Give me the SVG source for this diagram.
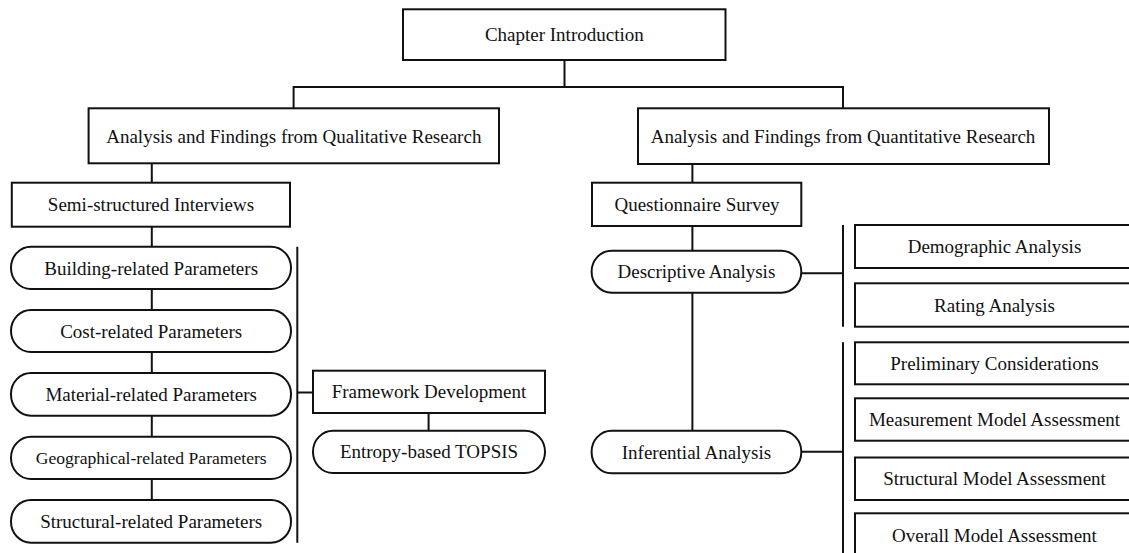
<svg xmlns="http://www.w3.org/2000/svg" width="1129" height="553" viewBox="0 0 1129 553">
<style>
.box{fill:#fff;stroke:#111;stroke-width:2}
.ln{fill:none;stroke:#111;stroke-width:2}
text{font-family:"Liberation Serif","Times New Roman",serif;font-size:19px;fill:#111;text-anchor:middle}
.sm{font-size:17.6px}
</style>
<rect width="1129" height="553" fill="#fff"/>
<g id="connectors">
<path class="ln" d="M564.5 60V87M293.6 108V87H843V108"/>
<path class="ln" d="M151.8 163V183M151.8 227V500"/>
<path class="ln" d="M297.3 246.7V542.7M297.3 392.5H313M428.6 413V430.7"/>
<path class="ln" d="M692.4 164V183M692.4 226V430.7"/>
<path class="ln" d="M801.3 273.3H843M843 225V326.7M801.3 451.7H843M843 342.3V553"/>
</g>
<g id="n-chapter"><rect class="box" x="403" y="9.3" width="322.5" height="50.7"/><text x="564.3" y="41.3">Chapter Introduction</text></g>
<g id="n-qual"><rect class="box" x="88.6" y="108.3" width="410.4" height="55"/><text x="293.8" y="142.5">Analysis and Findings from Qualitative Research</text></g>
<g id="n-quant"><rect class="box" x="638" y="108.3" width="411" height="55.7"/><text x="843" y="142.7">Analysis and Findings from Quantitative Research</text></g>
<g id="n-semi"><rect class="box" x="11.8" y="182.7" width="278.2" height="44"/><text x="151" y="211.3">Semi-structured Interviews</text></g>
<g id="n-quest"><rect class="box" x="592" y="182.7" width="209.3" height="43.3"/><text x="697" y="211">Questionnaire Survey</text></g>
<g id="n-building"><rect class="box" x="11" y="246.7" width="280" height="42.3" rx="20" ry="21"/><text x="151.2" y="274.6">Building-related Parameters</text></g>
<g id="n-cost"><rect class="box" x="11" y="310" width="280" height="42" rx="20" ry="21"/><text x="151.2" y="337.6">Cost-related Parameters</text></g>
<g id="n-material"><rect class="box" x="11" y="373" width="280" height="42.7" rx="20" ry="21"/><text x="151.2" y="400.9">Material-related Parameters</text></g>
<g id="n-geo"><rect class="box" x="11" y="436.7" width="280" height="42.3" rx="20" ry="21"/><text class="sm" x="151.2" y="464">Geographical-related Parameters</text></g>
<g id="n-struct"><rect class="box" x="11" y="500" width="280" height="42.7" rx="20" ry="21"/><text x="151.2" y="527.9">Structural-related Parameters</text></g>
<g id="n-framework"><rect class="box" x="313" y="370.7" width="232" height="42.3"/><text x="429" y="398.4">Framework Development</text></g>
<g id="n-entropy"><rect class="box" x="313" y="430.7" width="232" height="42.3" rx="20" ry="21"/><text x="429" y="458.4">Entropy-based TOPSIS</text></g>
<g id="n-descriptive"><rect class="box" x="591.6" y="250.7" width="209.7" height="42" rx="20" ry="21"/><text x="696.4" y="278.2">Descriptive Analysis</text></g>
<g id="n-inferential"><rect class="box" x="591.6" y="430.7" width="209.7" height="42.6" rx="20" ry="21"/><text x="696.4" y="458.5">Inferential Analysis</text></g>
<g id="n-demographic"><rect class="box" x="855" y="225" width="290" height="43"/><text x="994.5" y="253">Demographic Analysis</text></g>
<g id="n-rating"><rect class="box" x="855" y="283.3" width="290" height="43.4"/><text x="994.5" y="311.5">Rating Analysis</text></g>
<g id="n-preliminary"><rect class="box" x="855" y="342.3" width="290" height="42"/><text x="994.5" y="369.8">Preliminary Considerations</text></g>
<g id="n-measurement"><rect class="box" x="855" y="398.3" width="290" height="42.4"/><text x="994.5" y="426">Measurement Model Assessment</text></g>
<g id="n-structural"><rect class="box" x="855" y="457.5" width="290" height="42.5"/><text x="994.5" y="485.3">Structural Model Assessment</text></g>
<g id="n-overall"><rect class="box" x="855" y="513.3" width="290" height="60"/><text x="994.5" y="541.5">Overall Model Assessment</text></g>
</svg>
